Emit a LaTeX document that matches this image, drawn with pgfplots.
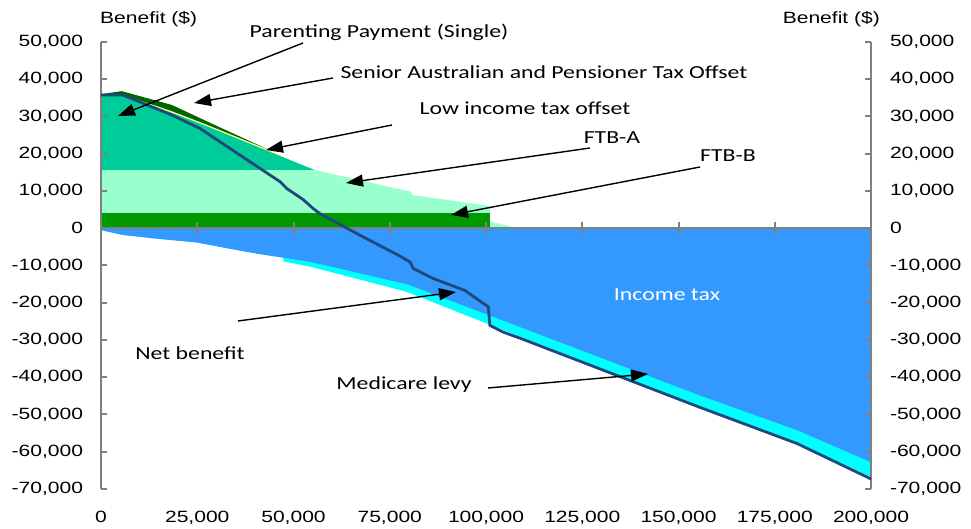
\documentclass[border=0pt]{standalone}
\usepackage{fontspec}
\setmainfont{Liberation Sans}
\newfontfamily\arialx{Liberation Sans}[FakeStretch=1.29]
\newfontfamily\calx{Carlito}[FakeStretch=1.29]
\usepackage{pgfplots}
\pgfplotsset{compat=1.18}
\usetikzlibrary{arrows.meta}
\definecolor{ftbb}{HTML}{009900}
\definecolor{ftba}{HTML}{99FFCC}
\definecolor{ppsc}{HTML}{00CC99}
\definecolor{litoc}{HTML}{FFFF99}
\definecolor{saptoc}{HTML}{006600}
\definecolor{taxc}{HTML}{3399FF}
\definecolor{medc}{HTML}{00FFFF}
\definecolor{netc}{HTML}{1F497D}
\definecolor{axgray}{RGB}{128,128,128}
\pgfplotsset{
  common/.style={
    at={(0,0)}, anchor=south west,
    scale only axis, width=770pt, height=447pt,
    xmin=0, xmax=200000, ymin=-70000, ymax=50000,
    xtick={0,25000,50000,75000,100000,125000,150000,175000,200000},
    ytick={-70000,-60000,-50000,-40000,-30000,-20000,-10000,0,10000,20000,30000,40000,50000},
    yticklabels={{-70,000},{-60,000},{-50,000},{-40,000},{-30,000},{-20,000},{-10,000},{0},{10,000},{20,000},{30,000},{40,000},{50,000}},
    scaled ticks=false,
    tick label style={font=\arialx\fontsize{16.3}{18}\selectfont},
  }
}
\begin{document}
\begin{tikzpicture}[x=1pt,y=1pt]
\useasboundingbox (-101,-40) rectangle (870,489);
% main axis: fills, left spine, bottom labels
\begin{axis}[common,
  axis on top,
  axis x line*=bottom, axis y line*=left,
  x axis line style={draw=none},
  y axis line style={draw=axgray, line width=2pt},
  xtick style={draw=none},
  ytick style={draw=axgray, line width=2pt},
  major tick length=6.5pt, tick align=inside,
  xticklabels={{0},{25,000},{50,000},{75,000},{100,000},{125,000},{150,000},{175,000},{200,000}},
  yticklabel style={xshift=-14.5pt},
  xticklabel style={yshift=-19pt},
]
% positive side (cumulative tops, drawn from top layer down)
\addplot[draw=none, fill=saptoc] coordinates {(0,0) (0,36000) (5400,36800) (18400,33100) (29600,27700) (43900,20900) (43900,0)} -- cycle;
\addplot[draw=none, fill=litoc] coordinates {(0,0) (0,35750) (5700,35750) (15000,32600) (18400,31400) (25700,28500) (29600,26900) (43900,20900) (52000,17000) (55600,15600) (55600,0)} -- cycle;
\addplot[draw=none, fill=ppsc] coordinates {(0,0) (0,35750) (5700,35750) (18400,31000) (25700,28100) (29600,26500) (43900,20500) (55600,15600) (55600,0)} -- cycle;
\addplot[draw=none, fill=ftba] coordinates {(0,0) (0,15600) (55600,15600) (80500,9800) (80900,8900) (101000,6000) (101000,1800) (108500,0)} -- cycle;
\addplot[draw=none, fill=ftbb] coordinates {(0,0) (0,4200) (101000,4200) (101000,0)} -- cycle;
% negative side: income tax plus Medicare levy, then income tax
\addplot[draw=none, fill=medc] coordinates {(0,0) (0,-500) (5700,-1800) (14500,-2800) (24800,-3800) (33500,-5500) (40400,-6800) (47400,-7900) (47400,-8900) (54300,-10300) (77700,-16600) (80000,-17300) (108800,-29100) (155600,-47900) (180800,-57600) (200000,-66800) (200000,0)} -- cycle;
\addplot[draw=none, fill=taxc] coordinates {(0,0) (0,-500) (5700,-1800) (14500,-2800) (24800,-3800) (33500,-5500) (40400,-6800) (47400,-7900) (54300,-9000) (77700,-14600) (80000,-15200) (108800,-26500) (155600,-44900) (180800,-54200) (200000,-62800) (200000,0)} -- cycle;
\end{axis}
% right spine and labels
\begin{axis}[common,
  axis x line=none, axis y line*=right,
  y axis line style={draw=axgray, line width=2pt},
  ytick style={draw=axgray, line width=2pt},
  major tick length=6.5pt, tick align=inside,
  yticklabel style={xshift=15.5pt},
]
\addplot[draw=none] coordinates {(0,0)};
\end{axis}
% zero line with centred ticks, and the net benefit line
\begin{axis}[common,
  axis x line*=middle, axis y line=none,
  x axis line style={draw=axgray, line width=2pt},
  xtick style={draw=axgray, line width=2pt},
  xticklabels={},
  major tick length=13pt, tick align=center,
]
\addplot[color=netc, line width=2.8pt, line join=round] coordinates {(0,35750) (5700,35750) (18400,30400) (25700,26800) (29600,24100) (46500,12500) (47500,11500) (48200,10700) (52500,7700) (55100,5300) (56900,3900) (67300,-1900) (77700,-7500) (80300,-9100) (81100,-10800) (86300,-13500) (94500,-16700) (100600,-21100) (101000,-26100) (104500,-27900) (108800,-29500) (155600,-48100) (180800,-57800) (200000,-67300)};
\end{axis}
% axis titles
\node[font=\arialx\fontsize{16.3}{18}\selectfont, anchor=west, inner sep=0pt] at (-1,470) {Benefit (\$)};
\node[font=\arialx\fontsize{16.3}{18}\selectfont, anchor=east, inner sep=0pt] at (779,470) {Benefit (\$)};
% annotations
\begin{scope}[every node/.style={font=\calx\fontsize{18.4}{20}\selectfont, inner sep=0pt}]
\node at (278,457) {Parenting Payment (Single)};
\node at (443,417) {Senior Australian and Pensioner Tax Offset};
\node at (424,381) {Low income tax offset};
\node at (511,351) {FTB-A};
\node at (627,333) {FTB-B};
\node at (89,136) {Net benefit};
\node at (303,104) {Medicare levy};
\node[text=white] at (566,194) {Income tax};
\end{scope}
\begin{scope}[line width=1.4pt, -{Triangle[length=17pt,width=12pt]}]
\draw (202,446) -- (17,373);
\draw (232,411) -- (93,386);
\draw (291,364) -- (165,339);
\draw (489,341) -- (245,306);
\draw (599,322) -- (350,274);
\draw (137,168) -- (355,197);
\draw (387,101) -- (547,115);
\end{scope}
\end{tikzpicture}
\end{document}
